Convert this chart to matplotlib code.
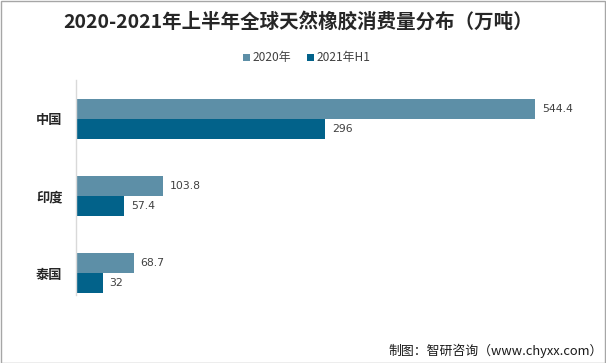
import matplotlib
matplotlib.use("Agg")
import matplotlib.pyplot as plt
from matplotlib.patches import Rectangle
import numpy as np

plt.rcParams['font.family'] = ['Noto Sans CJK SC', 'DejaVu Sans']

categories = ["中国", "印度", "泰国"]
series_names = ["2020年", "2021年H1"]
values_2020 = [544.4, 103.8, 68.7]
values_2021 = [296, 57.4, 32]
labels_2020 = ["544.4", "103.8", "68.7"]
labels_2021 = ["296", "57.4", "32"]
colors = ["#5d8fa7", "#02628a"]

W, H = 606, 363
fig = plt.figure(figsize=(W / 100, H / 100), dpi=100)

left = 75.7 / W
right = 598.8 / W
top = 1 - 80.4 / H
bottom = 1 - 295 / H
ax = fig.add_axes([left, bottom, right - left, top - bottom])

y = np.arange(len(categories))
bh = 0.26
b1 = ax.barh(y - bh / 2, values_2020, height=bh, color=colors[0], label=series_names[0])
b2 = ax.barh(y + bh / 2, values_2021, height=bh, color=colors[1], label=series_names[1])

for bars, labs in ((b1, labels_2020), (b2, labels_2021)):
    for rect, lab in zip(bars, labs):
        ax.annotate(lab, (rect.get_width(), rect.get_y() + rect.get_height() / 2),
                    xytext=(5, 0), textcoords="offset points",
                    ha="left", va="center", fontsize=7.8, color="#404040",
                    family=["DejaVu Sans"])

ax.set_xlim(0, 620)
ax.set_ylim(2.28, -0.5)
ax.set_yticks(y)
ax.set_yticklabels(categories, fontsize=9.5, fontweight="bold", color="#262626")
ax.tick_params(axis="y", length=0, pad=9.5)
ax.set_xticks([])
for s in ("top", "right", "bottom"):
    ax.spines[s].set_visible(False)
ax.spines["left"].set_color("#d9d9d9")
ax.spines["left"].set_linewidth(1)

fig.text(298 / W, 1 - 22 / H, "2020-2021年上半年全球天然橡胶消费量分布（万吨）",
         ha="center", va="center", fontsize=14.0, fontweight="bold", color="#262626")

leg = fig.legend(handles=[b1, b2], labels=series_names, loc="center",
                 bbox_to_anchor=(307 / W, 1 - 58 / H), ncol=2, frameon=False,
                 fontsize=8.6, handlelength=0.55, handleheight=0.55,
                 handletextpad=0.25, columnspacing=1.3)
for t in leg.get_texts():
    t.set_color("#404040")

fig.text(603 / W, 1 - 351 / H, "制图：智研咨询（www.chyxx.com）",
         ha="right", va="center", fontsize=9.3, color="#1a1a1a")

fig.patches.append(Rectangle((0.5 / W, 0.5 / H), 1 - 1.5 / W, 1 - 1.5 / H,
                             transform=fig.transFigure, fill=False,
                             edgecolor="#a6a6a6", linewidth=1))

fig.savefig("out.png", dpi=100)
